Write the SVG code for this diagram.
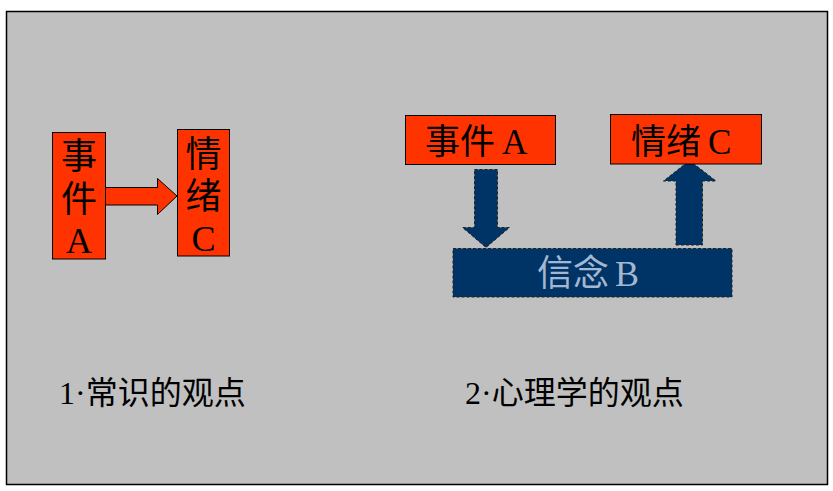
<svg xmlns="http://www.w3.org/2000/svg" width="833" height="491" viewBox="0 0 833 491">
<style>
.t{font-family:"Liberation Serif","Noto Sans CJK SC",serif;fill:#000}
.red{fill:#FF3300;stroke:#000;stroke-width:1}
.navy{fill:#003366;stroke:#222;stroke-width:1;stroke-dasharray:3 2}
.lb{fill:#A3B8D0}
</style>
<rect x="0" y="0" width="833" height="491" fill="#fff"/>
<rect x="6.5" y="11.5" width="821" height="473" fill="#C0C0C0" stroke="#000" stroke-width="1.5"/>
<g id="connectors">
<polygon class="red" points="101,187.5 157.5,187.5 157.5,178.5 177,196 157.5,214.5 157.5,205 101,205"/>
<polygon class="navy" points="474.5,169.5 497.5,169.5 497.5,227.5 509.5,227.5 486,247.5 462.5,227.5 474.5,227.5"/>
<polygon class="navy" points="676,245 702.5,245 702.5,181 716,181 689.5,160.5 663.5,181 676,181"/>
</g>
<g id="node-left-event">
<rect class="red" x="52.5" y="132.5" width="53" height="126.5"/>
<text class="t" font-size="36" text-anchor="middle"><tspan x="79" y="169">事</tspan><tspan x="79" y="212">件</tspan><tspan x="79" y="253">A</tspan></text>
</g>
<g id="node-left-emotion">
<rect class="red" x="177.5" y="129.5" width="52" height="126.5"/>
<text class="t" font-size="36" text-anchor="middle"><tspan x="203.5" y="167">情</tspan><tspan x="203.5" y="209">绪</tspan><tspan x="203.5" y="251">C</tspan></text>
</g>
<g id="node-right-event">
<rect class="red" x="405.5" y="115.5" width="150" height="49"/>
<text class="t" font-size="35" x="425" y="154">事件<tspan dx="7">A</tspan></text>
</g>
<g id="node-right-emotion">
<rect class="red" x="610.5" y="114.5" width="151" height="49.5"/>
<text class="t" font-size="35" x="631" y="154">情绪<tspan dx="7">C</tspan></text>
</g>
<g id="node-belief">
<rect class="navy" x="453" y="248.5" width="279" height="48.5"/>
<text class="t lb" font-size="36" x="537" y="286">信念<tspan dx="6">B</tspan></text>
</g>
<g id="label-1">
<text class="t" font-size="32" x="59" y="404">1·常识的观点</text>
</g>
<g id="label-2">
<text class="t" font-size="32" x="465" y="404">2·心理学的观点</text>
</g>
</svg>
